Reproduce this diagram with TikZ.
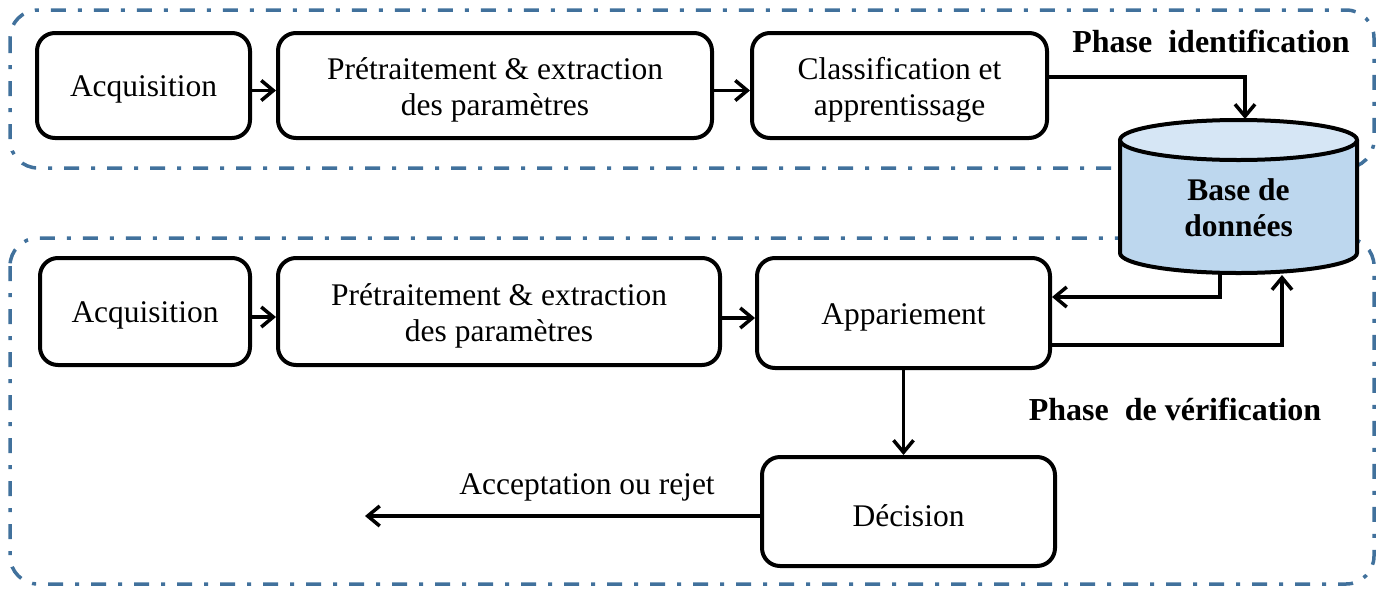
\documentclass[tikz,border=0pt]{standalone}
\usepackage{fontspec}
\setmainfont{Liberation Serif}
\usetikzlibrary{arrows.meta}
\definecolor{phaseblue}{RGB}{65,113,156}
\definecolor{dbbody}{RGB}{189,215,238}
\definecolor{dbtopc}{RGB}{214,230,245}
\tikzset{
  box/.style={draw, line width=4pt, rounded corners=18pt, inner sep=0pt,
    label={[boxtext]center:#1}},
  boxtext/.style={font=\fontsize{31.5}{36}\selectfont, align=center, inner sep=0pt, yshift=-4pt},
  phasebox/.style={draw=phaseblue, line width=3.5pt, rounded corners=28pt,
    dash pattern=on 15pt off 12pt on 4pt off 12pt},
  arr/.style={line width=3.5pt, -{Straight Barb[length=12pt,width=20pt,line width=3.5pt]}},
  lbl/.style={font=\fontsize{31.5}{36}\selectfont, inner sep=0pt},
  blbl/.style={font=\bfseries\fontsize{32}{36}\selectfont, inner sep=0pt, align=center},
  dblbl/.style={font=\bfseries\fontsize{31.5}{36}\selectfont, inner sep=0pt, align=center},
}
\begin{document}
\begin{tikzpicture}[x=1pt,y=-1pt]
\useasboundingbox (0,0) rectangle (1386,592);
% phase frames
\draw[phasebox] (10,10) rectangle (1374,168);
\draw[phasebox] (10,238) rectangle (1374,584);
% top row
\node[box={Acquisition}, minimum width=213pt, minimum height=105pt] (acq1) at (143.5,85.5) {};
\node[box={{Prétraitement \& extraction\\des paramètres}}, minimum width=434pt, minimum height=105pt] (pre1) at (495,85.5) {};
\node[box={{Classification et\\apprentissage}}, minimum width=295pt, minimum height=105pt] (cls) at (899.5,85.5) {};
% bottom row
\node[box={Acquisition}, minimum width=210pt, minimum height=107pt] (acq2) at (145,311.5) {};
\node[box={{Prétraitement \& extraction\\des paramètres}}, minimum width=442pt, minimum height=107pt] (pre2) at (499,311.5) {};
\node[box={Appariement}, minimum width=293pt, minimum height=110pt] (app) at (903.5,313) {};
\node[box={Décision}, minimum width=293pt, minimum height=109pt] (dec) at (908.5,511.5) {};
% database cylinder
\path[fill=dbbody, draw, line width=4pt] (1120,140) -- (1120,253)
  arc[start angle=180, end angle=0, x radius=118.5, y radius=20] -- (1357,140);
\draw[fill=dbtopc, line width=4pt] (1238.5,140) ellipse[x radius=118.5, y radius=20];
\node[dblbl] (db) at (1238.5,208) {Base de\\données};
\coordinate (dbtop) at (1245,119);
\coordinate (dbb1) at (1220,274);
\coordinate (dbb2) at (1282,275);
% labels
\node[blbl, anchor=base] (ph1) at (1211,52) {Phase\ \ identification};
\node[blbl, anchor=base] (ph2) at (1175,420) {Phase\ \ de vérification};
% connectors
\draw[arr] ([yshift=-5pt]acq1.east) -- ([yshift=-5pt]pre1.west);
\draw[arr] ([yshift=-5pt]pre1.east) -- ([yshift=-5pt]cls.west);
\draw[arr] ([yshift=8.5pt]cls.east) -| (dbtop);
\draw[arr] ([yshift=-5.5pt]acq2.east) -- ([yshift=-5.5pt]pre2.west);
\draw[arr] ([yshift=-6.5pt]pre2.east) coordinate (p2) -- (p2 -| app.west);
\draw[arr] (dbb1) |- ([yshift=16pt]app.east);
\draw[arr] ([yshift=-32pt]app.east) -| (dbb2);
\draw[arr] (app.south) -- (app.south |- dec.north);
\coordinate (out) at (365,516);
\draw[arr] ([yshift=-4.5pt]dec.west) -- (out);
\node[lbl, anchor=base] (res) at (587,494) {Acceptation ou rejet};
\end{tikzpicture}
\end{document}
